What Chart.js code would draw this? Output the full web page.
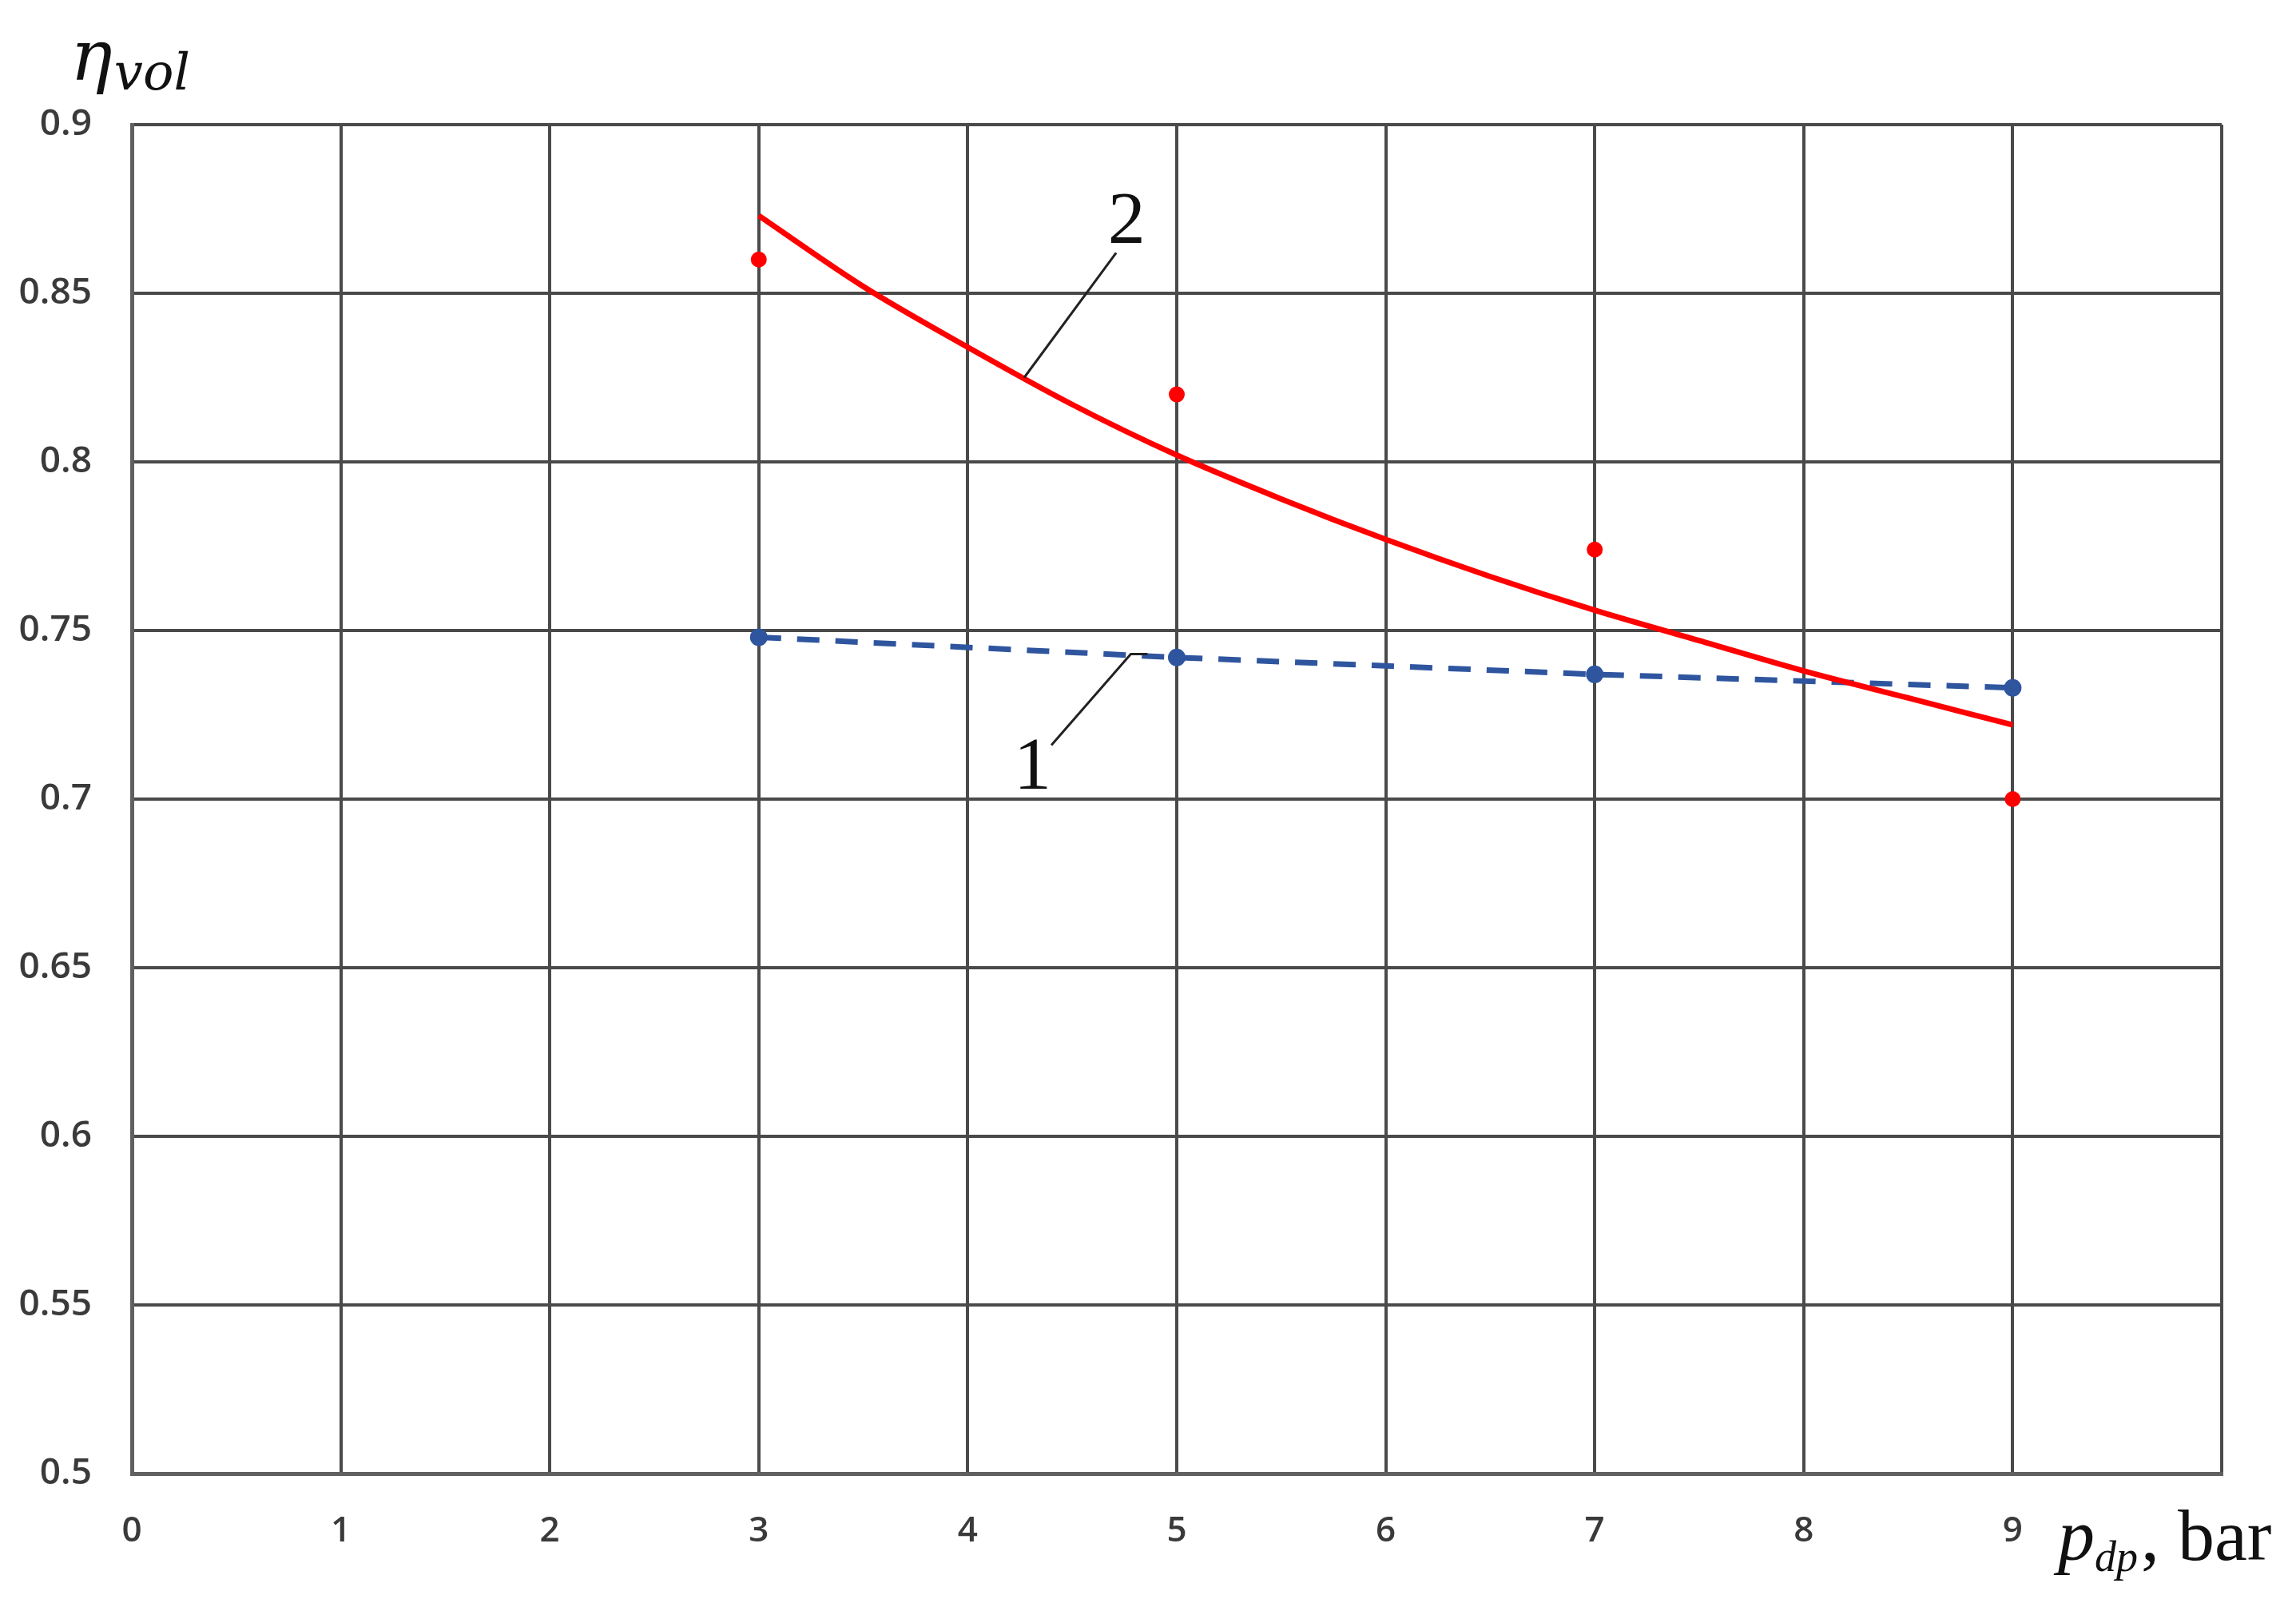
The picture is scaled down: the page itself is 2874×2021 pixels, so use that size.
<!DOCTYPE html>
<html lang="en">
<head>
    <meta charset="UTF-8">
    <title>Volumetric efficiency vs discharge pressure</title>
    <style>
        html, body { margin: 0; padding: 0; background: #fff; overflow: hidden; }
        #effChart { display: block; }
    </style>
</head>
<body>
    <canvas id="effChart" width="2874" height="2021"></canvas>

    <script src="https://cdn.jsdelivr.net/npm/chart.js"></script>
    <script>
// measured points (same pressures for both curves)
const pressures = [3, 5, 7, 9];
const measured2 = [0.860, 0.820, 0.774, 0.700];   // red dots
const curve1 = [0.748, 0.742, 0.737, 0.733];      // blue dashed, curve 1
// red trend line (curve 2)
const trendX = [3, 3.5, 4, 4.5, 5, 5.5, 6, 6.5, 7, 7.5, 8, 8.5, 9];
const trendY = [0.873, 0.852, 0.834, 0.817, 0.802, 0.789, 0.777, 0.766, 0.756, 0.747, 0.738, 0.730, 0.722];
// axis ticks
const xTicks = [0, 1, 2, 3, 4, 5, 6, 7, 8, 9, 10];
const yTicks = [0.5, 0.55, 0.6, 0.65, 0.7, 0.75, 0.8, 0.85, 0.9];

const red = '#ff0000';
const blue = '#2f559f';
const gridCol = '#4a4a4a';

const toXY = (xs, ys) => xs.map((x, i) => ({ x: x, y: ys[i] }));

// curve labels "1", "2" with leader lines + axis titles
const extras = {
    id: 'extras',
    afterDatasetsDraw(chart) {
        const ctx = chart.ctx;
        const sx = chart.scales.x, sy = chart.scales.y;
        const px = v => sx.getPixelForValue(v);
        const py = v => sy.getPixelForValue(v);

        ctx.save();
        ctx.strokeStyle = '#222';
        ctx.lineWidth = 3;
        // leader for 2
        ctx.beginPath();
        ctx.moveTo(px(4.27), py(0.825));
        ctx.lineTo(px(4.71), py(0.862));
        ctx.stroke();
        // leader for 1
        ctx.beginPath();
        ctx.moveTo(px(4.40), py(0.716));
        ctx.lineTo(px(4.78), py(0.743));
        ctx.lineTo(px(4.86), py(0.743));
        ctx.stroke();

        ctx.fillStyle = '#111';
        ctx.font = '94px "Liberation Serif"';
        ctx.textAlign = 'center';
        ctx.textBaseline = 'alphabetic';
        ctx.fillText('2', px(4.76), py(0.865));
        ctx.fillText('1', px(4.31), py(0.703));

        // y title: eta_vol
        ctx.textAlign = 'left';
        ctx.font = 'italic 88px "DejaVu Serif"';
        ctx.fillText('η', 88, 100);
        const w = ctx.measureText('η').width;
        ctx.font = 'italic 64px "DejaVu Serif"';
        ctx.fillText('vol', 88 + w + 2, 112);

        // x title: p_dp, bar
        let x0 = 2576;
        ctx.font = 'italic 92px "Liberation Serif"';
        ctx.fillText('p', x0, 1952);
        x0 += ctx.measureText('p').width;
        ctx.font = 'italic 54px "Liberation Serif"';
        ctx.fillText('dp', x0, 1966);
        x0 += ctx.measureText('dp').width + 4;
        ctx.font = '92px "Liberation Serif"';
        ctx.fillText(', bar', x0, 1952);
        ctx.restore();
    }
};

new Chart(document.getElementById('effChart'), {
    type: 'scatter',
    data: {
        datasets: [
            {
                label: '2 (trend)',
                data: toXY(trendX, trendY),
                showLine: true,
                borderColor: red,
                borderWidth: 7,
                pointRadius: 0,
                cubicInterpolationMode: 'monotone',
                order: 0
            },
            {
                label: '2 (measured)',
                data: toXY(pressures, measured2),
                showLine: false,
                backgroundColor: red,
                borderColor: red,
                pointRadius: 10,
                borderWidth: 0,
                order: 1
            },
            {
                label: '1',
                data: toXY(pressures, curve1),
                showLine: true,
                borderColor: blue,
                backgroundColor: blue,
                borderWidth: 7,
                borderDash: [28, 20],
                pointRadius: 11,
                pointBorderWidth: 0,
                order: 2
            }
        ]
    },
    options: {
        responsive: false,
        animation: false,
        devicePixelRatio: 1,
        layout: { padding: { left: 0, top: 156, right: 93, bottom: 0 } },
        scales: {
            x: {
                type: 'linear',
                min: 0,
                max: 10,
                afterBuildTicks: s => { s.ticks = xTicks.map(v => ({ value: v })); },
                afterFit: s => { s.height = 177; },
                ticks: {
                    padding: 46,
                    color: '#3a3a3a',
                    font: { family: "'Open Sans'", size: 44, weight: '600' },
                    maxRotation: 0,
                    callback: v => (v === 10 ? '' : String(v))
                },
                grid: { color: gridCol, lineWidth: 4, drawTicks: false },
                border: { color: '#606060', width: 5 }
            },
            y: {
                type: 'linear',
                min: 0.5,
                max: 0.9,
                afterBuildTicks: s => { s.ticks = yTicks.map(v => ({ value: v })); },
                afterFit: s => { s.width = 165; },
                ticks: {
                    padding: 50,
                    color: '#3a3a3a',
                    font: { family: "'Open Sans'", size: 46, weight: '600' },
                    callback: v => String(+v.toFixed(2))
                },
                grid: { color: gridCol, lineWidth: 4, drawTicks: false },
                border: { color: '#606060', width: 5 }
            }
        },
        plugins: {
            legend: { display: false },
            tooltip: { enabled: false }
        }
    },
    plugins: [extras]
});
    </script>
</body>
</html>
